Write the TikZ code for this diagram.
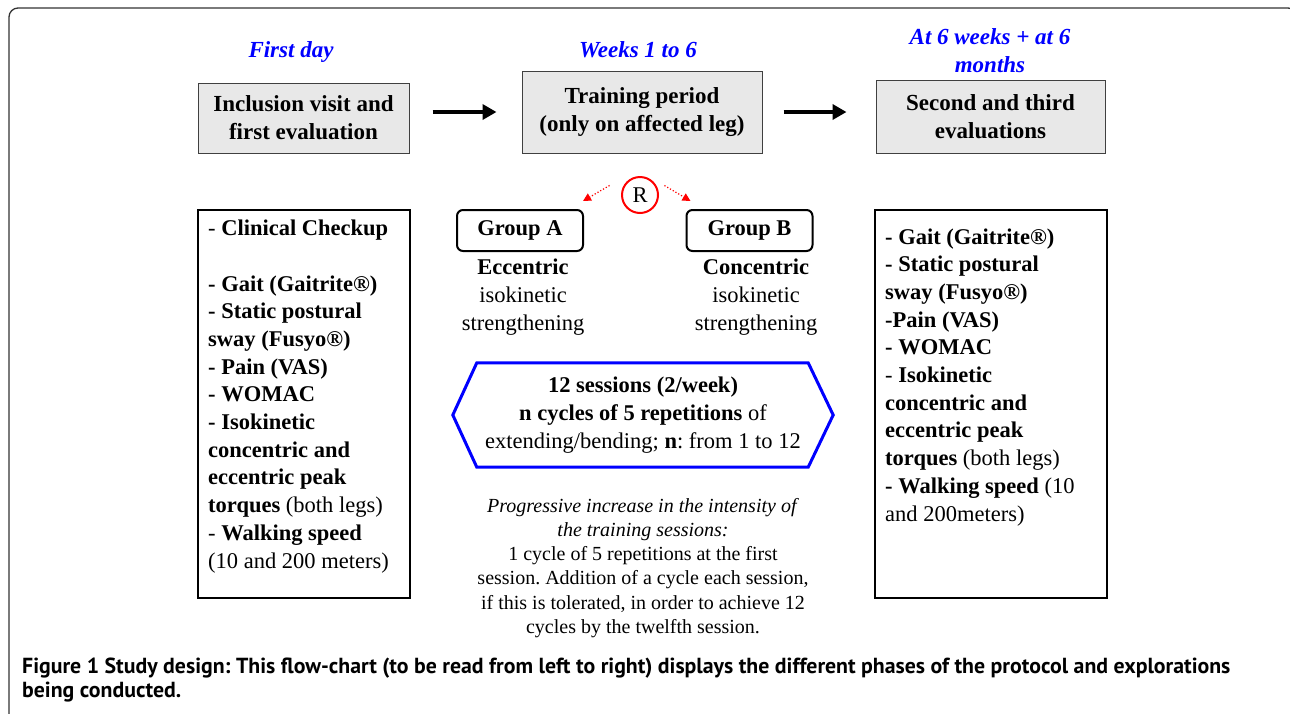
\documentclass[tikz,border=0pt]{standalone}
\usepackage{fontspec}
\setmainfont{Liberation Serif}
\newfontfamily\captionfont{PT Sans}
\usetikzlibrary{arrows.meta}
\frenchspacing

\newcommand{\boxsize}{\fontsize{23}{28}\selectfont}
\newcommand{\listsize}{\fontsize{22.5}{27.7}\selectfont}
\newcommand{\notesize}{\fontsize{20}{24.2}\selectfont}

\begin{document}
\begin{tikzpicture}[x=1pt, y=-1pt,
	phase/.style={draw=black!75, fill=black!9, line width=1pt, align=center, font=\boxsize\bfseries, inner sep=0pt},
	when/.style={text=blue, align=center, font=\boxsize\bfseries\itshape, inner sep=0pt},
	group/.style={draw, rounded corners=6pt, line width=2pt, minimum width=126pt, minimum height=41pt, font=\listsize\bfseries, inner sep=0pt},
	listframe/.style={draw, line width=2.6pt, minimum width=212pt, minimum height=388pt, inner sep=0pt},
	listtext/.style={align=left, font=\listsize, anchor=base west, inner sep=0pt},
	plain/.style={align=center, font=\listsize, inner sep=0pt},
	bigarrow/.style={line width=4pt, -{Triangle[length=14pt, width=15pt]}},
	randarrow/.style={red, dotted, line width=1.2pt, -{Triangle[length=8pt, width=8pt]}}]
	\useasboundingbox (0,0) rectangle (1290,713);
	\draw[black!80, line width=1.3pt, rounded corners=9pt] (9,8) rectangle (1297,740);

	\node[when] (day1) at (291,52) {First day};
	\node[when] (weeks) at (638,50) {Weeks 1 to 6};
	\node[when] (later) at (990,51) {At 6 weeks + at 6\\months};

	\node[phase, minimum width=211pt, minimum height=70pt] (incl) at (303.5,118) {Inclusion visit and\\first evaluation};
	\node[phase, minimum width=240pt, minimum height=82pt] (train) at (642,112) {Training period\\(only on affected leg)};
	\node[phase, minimum width=229pt, minimum height=73pt] (evals) at (990.5,116.5) {Second and third\\evaluations};
	\draw[bigarrow, shorten <=23pt, shorten >=25pt] (incl.east |- train) -- (train.west);
	\draw[bigarrow, shorten <=21pt, shorten >=29pt] (train.east) -- (evals.west |- train);

	\node[draw=red, circle, line width=2pt, minimum size=36pt, inner sep=0pt, font=\listsize] (R) at (640,195) {R};
	\node[group] (grpA) at (520,230.5) {Group A};
	\node[group] (grpB) at (749.5,230.5) {Group B};
	\draw[randarrow] ([xshift=-14pt]R.150) -- ([shift={(-1,-8)}]grpA.north east);
	\draw[randarrow] ([xshift=8pt]R.30) -- ([shift={(5,-8)}]grpB.north west);
	\node[plain] (eccA) at (523,297) {\textbf{Eccentric}\\isokinetic\\strengthening};
	\node[plain] (conB) at (756,297) {\textbf{Concentric}\\isokinetic\\strengthening};

	\node[plain, minimum width=380pt, minimum height=104pt] (sess) at (643,415) {\textbf{12 sessions (2/week)}\\\textbf{n cycles of 5 repetitions} of\\extending/bending; \textbf{n}: from 1 to 12};
	\draw[blue, line width=3pt] (sess.west) -- ([xshift=24pt]sess.north west) -- ([xshift=-25pt]sess.north east) -- (sess.east) -- ([xshift=-25pt]sess.south east) -- ([xshift=24pt]sess.south west) -- cycle;
	\node[plain, font=\notesize] (note) at (643,568) {\textit{Progressive increase in the intensity of}\\\textit{the training sessions:}\\1 cycle of 5 repetitions at the first\\session. Addition of a cycle each session,\\if this is tolerated, in order to achieve 12\\cycles by the twelfth session.};

	\node[listframe] (frameA) at (304,404) {};
	\node[listtext] (checkA) at (208,568) {- \textbf{Clinical Checkup}\\[27.7pt]
		\textbf{- Gait (Gaitrite®)}\\\textbf{- Static postural}\\\textbf{sway (Fusyo®)}\\\textbf{- Pain (VAS)}\\\textbf{- WOMAC}\\
		\textbf{- Isokinetic}\\\textbf{concentric and}\\\textbf{eccentric peak}\\\textbf{torques} (both legs)\\- \textbf{Walking speed}\\(10 and 200 meters)};
	\node[listframe, minimum width=232pt] (frameB) at (991,404) {};
	\node[listtext] (checkB) at (885,521) {\textbf{- Gait (Gaitrite®)}\\\textbf{- Static postural}\\\textbf{sway (Fusyo®)}\\\textbf{-Pain (VAS)}\\\textbf{- WOMAC}\\
		- \textbf{Isokinetic}\\\textbf{concentric and}\\\textbf{eccentric peak}\\\textbf{torques} (both legs)\\\textbf{- Walking speed} (10\\and 200meters)};

	\node[anchor=base west, align=left, inner sep=0pt, font=\captionfont\fontsize{21.8}{24}\selectfont\bfseries] (caption) at (22,697) {Figure 1 Study design: This flow-chart (to be read from left to right) displays the different phases of the protocol and explorations\\being conducted.};
\end{tikzpicture}
\end{document}
